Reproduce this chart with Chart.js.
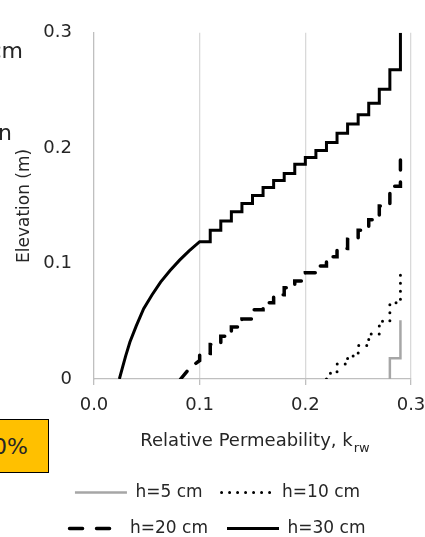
<!DOCTYPE html>
<html>
<head>
<meta charset="utf-8">
<title>Relative permeability vs elevation</title>
<script src="https://cdn.jsdelivr.net/npm/chart.js@4.4.1/dist/chart.umd.min.js"></script>
<style>
    html, body { margin: 0; padding: 0; background: #fff; }
    #wrap {
        position: relative;
        width: 425px;
        height: 537px;
        overflow: hidden;
        font-family: 'DejaVu Sans', sans-serif;
        color: #262626;
    }
    #wrap canvas { position: absolute; left: 0; top: 0; }
    .cut {
        position: absolute;
        font-size: 22px;
        line-height: 22px;
        white-space: nowrap;
        text-align: right;
    }
    #badge {
        position: absolute;
        left: -30px;
        top: 419px;
        width: 79px;
        height: 54px;
        box-sizing: border-box;
        background: #ffc000;
        border: 1.5px solid #000;
        display: flex;
        align-items: center;
        justify-content: flex-end;
        padding-right: 20px;
        font-size: 22px;
    }
</style>
</head>
<body>
<div id="wrap">
    <canvas id="permChart" width="425" height="537"></canvas>
    <!-- bits of the neighbouring figure that got cropped in -->
    <div class="cut" style="right: 402px; top: 40px;">cm</div>
    <div class="cut" style="right: 413px; top: 122px;">n</div>
    <div id="badge">0%</div>
</div>

<script>
/* Chart data */

// h = 5 cm
const kw5 = [0.280, 0.280, 0.290, 0.290];
const z5  = [0.000, 0.018, 0.018, 0.051];

// h = 10 cm
const kw10 = [0.220, 0.222, 0.230, 0.230, 0.240, 0.240, 0.250, 0.250, 0.260, 0.260, 0.270, 0.270, 0.280, 0.280, 0.290, 0.290];
const z10  = [0.000, 0.005, 0.005, 0.013, 0.013, 0.020, 0.020, 0.029, 0.029, 0.039, 0.039, 0.050, 0.050, 0.066, 0.066, 0.095];

// h = 20 cm
const kw20 = [0.082, 0.091, 0.100, 0.100,
    0.11, 0.11, 0.12, 0.12, 0.13, 0.13, 0.14, 0.14, 0.15, 0.15, 0.16, 0.16, 0.17, 0.17, 0.18, 0.18,
    0.19, 0.19, 0.20, 0.20, 0.21, 0.21, 0.22, 0.22, 0.23, 0.23, 0.24, 0.24, 0.25, 0.25, 0.26, 0.26,
    0.27, 0.27, 0.28, 0.28, 0.29, 0.29];
const z20 = [0.000, 0.010, 0.016, 0.022,
    0.022, 0.030, 0.030, 0.037, 0.037, 0.045, 0.045, 0.052, 0.052, 0.060, 0.060, 0.066, 0.066, 0.073, 0.073, 0.079,
    0.079, 0.085, 0.085, 0.092, 0.092, 0.098, 0.098, 0.106, 0.106, 0.113, 0.113, 0.121, 0.121, 0.129, 0.129, 0.138,
    0.138, 0.150, 0.150, 0.167, 0.167, 0.193];

// h = 30 cm
const kw30 = [0.024, 0.027, 0.030, 0.034, 0.040, 0.047, 0.055, 0.063, 0.072, 0.081, 0.090, 0.100,
    0.11, 0.11, 0.12, 0.12, 0.13, 0.13, 0.14, 0.14, 0.15, 0.15, 0.16, 0.16, 0.17, 0.17, 0.18, 0.18,
    0.19, 0.19, 0.20, 0.20, 0.21, 0.21, 0.22, 0.22, 0.23, 0.23, 0.24, 0.24, 0.25, 0.25, 0.26, 0.26,
    0.27, 0.27, 0.28, 0.28, 0.29, 0.29];
const z30 = [0.000, 0.010, 0.020, 0.032, 0.046, 0.061, 0.073, 0.084, 0.094, 0.103, 0.111, 0.119,
    0.119, 0.129, 0.129, 0.137, 0.137, 0.145, 0.145, 0.152, 0.152, 0.159, 0.159, 0.166, 0.166, 0.172,
    0.172, 0.178, 0.178, 0.186, 0.186, 0.192, 0.192, 0.198, 0.198, 0.205, 0.205, 0.213, 0.213, 0.221,
    0.221, 0.229, 0.229, 0.239, 0.239, 0.251, 0.251, 0.268, 0.268, 0.300];

const seriesLabels = ['h=5 cm', 'h=10 cm', 'h=20 cm', 'h=30 cm'];
const xTickLabels = ['0.0', '0.1', '0.2', '0.3'];
const yTickLabels = ['0', '0.1', '0.2', '0.3'];
const xTitle = 'Relative Permeability, k';
const xTitleSub = 'rw';
const yTitle = 'Elevation (m)';

const FONT = "'DejaVu Sans', sans-serif";
const TEXT = '#262626';

function toPoints(xs, ys) {
    return xs.map((x, i) => ({ x: x, y: ys[i] }));
}

/* x axis title has a subscript, so it is drawn by hand */
const xTitlePlugin = {
    id: 'xTitleSub',
    afterDraw(chart) {
        const { ctx, chartArea } = chart;
        ctx.save();
        ctx.fillStyle = TEXT;
        ctx.textAlign = 'left';
        ctx.textBaseline = 'alphabetic';
        ctx.font = '18px ' + FONT;
        const wMain = ctx.measureText(xTitle).width;
        ctx.font = '13px ' + FONT;
        const wSub = ctx.measureText(xTitleSub).width;
        const x0 = (chartArea.left + chartArea.right) / 2 - (wMain + wSub) / 2 + 2;
        const y = chartArea.bottom + 67;
        ctx.font = '18px ' + FONT;
        ctx.fillText(xTitle, x0, y);
        ctx.font = '13px ' + FONT;
        ctx.fillText(xTitleSub, x0 + wMain + 1, y + 6);
        ctx.restore();
    }
};

document.addEventListener('DOMContentLoaded', () => {
    const ctx = document.getElementById('permChart');

    Chart.defaults.font.family = FONT;
    Chart.defaults.color = TEXT;

    new Chart(ctx, {
        type: 'scatter',
        data: {
            datasets: [{
                label: seriesLabels[0],
                data: toPoints(kw5, z5),
                borderColor: '#a6a6a6',
                borderWidth: 2.5
            }, {
                label: seriesLabels[1],
                data: toPoints(kw10, z10),
                borderColor: '#000',
                borderWidth: 3,
                borderDash: [0, 8],
                borderCapStyle: 'round'
            }, {
                label: seriesLabels[2],
                data: toPoints(kw20, z20),
                borderColor: '#000',
                borderWidth: 3.5,
                borderDash: [10, 12],
                borderCapStyle: 'round'
            }, {
                label: seriesLabels[3],
                data: toPoints(kw30, z30),
                borderColor: '#000',
                borderWidth: 3
            }].map(ds => Object.assign({
                showLine: true,
                pointRadius: 0,
                pointHoverRadius: 0,
                tension: 0,
                fill: false,
                borderJoinStyle: 'miter'
            }, ds))
        },
        options: {
            responsive: false,
            animation: false,
            layout: {
                padding: { left: 24, right: 14, top: 22, bottom: -10 }
            },
            plugins: {
                tooltip: { enabled: false },
                legend: {
                    position: 'bottom',
                    labels: {
                        usePointStyle: true,
                        pointStyle: 'line',
                        pointStyleWidth: 52,
                        padding: 19,
                        color: TEXT,
                        font: { size: 17 },
                        generateLabels(chart) {
                            const items = Chart.defaults.plugins.legend.labels.generateLabels(chart);
                            items.forEach(item => {
                                const ds = chart.data.datasets[item.datasetIndex];
                                // legend key is a bit longer than a plot dash
                                item.lineDash = item.datasetIndex === 2 ? [13, 14] : (ds.borderDash || []);
                                item.lineCap = ds.borderCapStyle || 'butt';
                                item.lineWidth = ds.borderWidth;
                                item.strokeStyle = ds.borderColor;
                            });
                            return items;
                        }
                    }
                }
            },
            scales: {
                x: {
                    type: 'linear',
                    min: 0,
                    max: 0.3,
                    ticks: {
                        stepSize: 0.1,
                        padding: 10,
                        font: { size: 18 },
                        color: TEXT,
                        callback: (v, i) => xTickLabels[i]
                    },
                    grid: {
                        color: (c) => c.index === 0 ? 'rgba(0,0,0,0)' : '#d9d9d9',
                        lineWidth: 1.3,
                        drawTicks: true,
                        tickLength: 6,
                        tickColor: '#bfbfbf'
                    },
                    border: { display: true, color: '#bfbfbf', width: 1.3 },
                    title: { display: false },
                    afterFit(scale) {
                        scale.height = 86;
                        scale.paddingRight = 0;
                    }
                },
                y: {
                    type: 'linear',
                    min: 0,
                    max: 0.3,
                    ticks: {
                        stepSize: 0.1,
                        padding: 22,
                        font: { size: 18 },
                        color: TEXT,
                        callback: (v, i) => yTickLabels[i]
                    },
                    grid: { display: false, drawTicks: false },
                    border: { display: true, color: '#bfbfbf', width: 1.3 },
                    title: {
                        display: true,
                        text: yTitle,
                        color: TEXT,
                        font: { size: 17 },
                        padding: { top: -9.5, bottom: 0 }
                    },
                    afterFit(scale) { scale.width = 70; }
                }
            }
        },
        plugins: [xTitlePlugin]
    }); // End Chart
});
</script>
</body>
</html>
